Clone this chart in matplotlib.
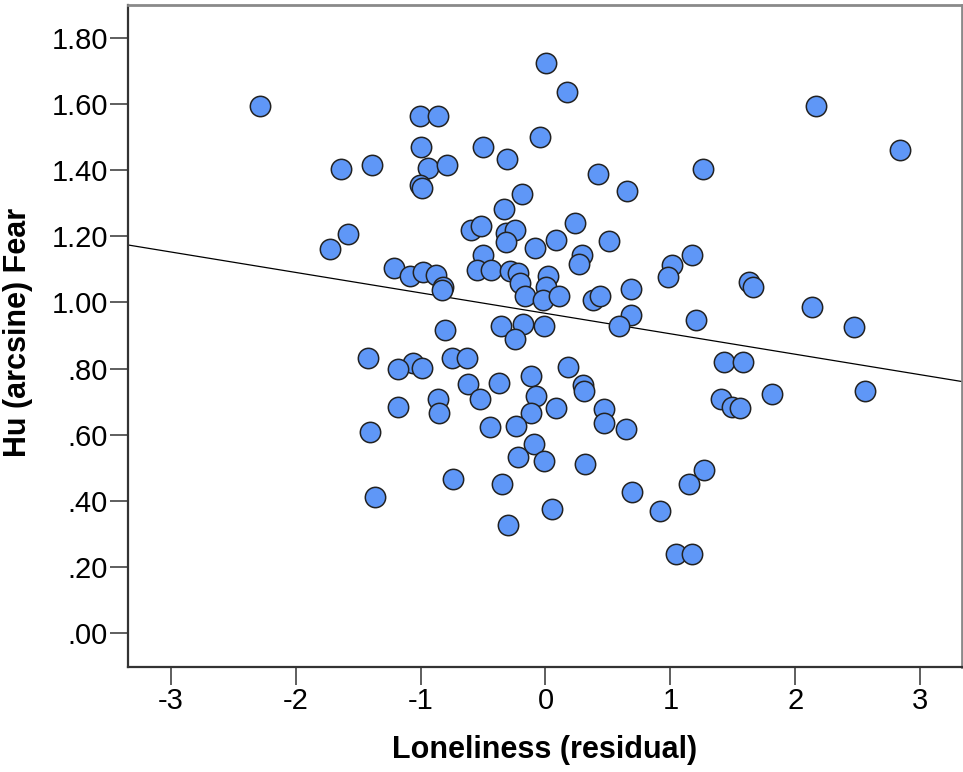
import numpy as np
import matplotlib
matplotlib.use("Agg")
import matplotlib.pyplot as plt

plt.rcParams['font.family'] = ['Liberation Sans', 'DejaVu Sans']

# Loneliness (residual) vs Hu (arcsine) Fear
loneliness = [
    -2.288, 0.006, 0.176, 2.170, 2.838, -1.002, -0.862, -1.634, -1.390, -1.000,
    -0.942, -0.790, -1.002, -0.992, -0.502, -0.310, -0.042, 0.418, 0.650, 1.258,
    -0.186, -1.728, -1.582, -0.594, -0.514, -0.336, -0.320, -0.248, -0.320, -0.088,
    0.086, 0.240, 0.506, 0.294, 0.272, -0.502, 1.174, 1.014, 0.978, 1.632,
    1.664, 2.138, 2.472, -1.210, -1.082, -0.982, -0.874, -0.822, -0.826, -0.550,
    -0.434, -0.288, -0.222, -0.208, -0.168, 0.018, 0.006, -0.022, 0.112, 0.378,
    0.438, 0.686, 0.686, 0.586, 1.208, -0.808, -0.354, -0.182, -0.016, -0.248,
    -0.746, -0.630, -1.062, -0.986, -1.422, -1.182, -0.622, -0.374, -0.114, 0.178,
    0.298, 0.312, -0.528, -0.074, 0.086, -0.114, -0.862, -0.854, -1.184, 0.472,
    0.472, 0.646, -0.442, -0.240, -1.408, -0.094, -0.222, -0.016, 0.320, -0.742,
    -0.348, 0.052, -0.302, 0.692, 0.918, 1.146, 1.272, 1.046, 1.170, -1.368,
    1.432, 1.578, 1.818, 2.560, 1.406, 1.494, 1.558,
]
fear = [
    1.594, 1.724, 1.637, 1.594, 1.461, 1.564, 1.564, 1.402, 1.415, 1.471,
    1.405, 1.415, 1.355, 1.345, 1.471, 1.435, 1.501, 1.387, 1.338, 1.402,
    1.327, 1.160, 1.206, 1.219, 1.231, 1.281, 1.209, 1.219, 1.183, 1.163,
    1.189, 1.241, 1.186, 1.143, 1.116, 1.143, 1.143, 1.113, 1.078, 1.063,
    1.046, 0.987, 0.927, 1.104, 1.080, 1.093, 1.083, 1.047, 1.037, 1.098,
    1.098, 1.096, 1.088, 1.058, 1.019, 1.080, 1.047, 1.007, 1.019, 1.007,
    1.019, 1.040, 0.962, 0.929, 0.948, 0.917, 0.929, 0.935, 0.929, 0.888,
    0.831, 0.831, 0.816, 0.801, 0.832, 0.800, 0.753, 0.756, 0.778, 0.804,
    0.750, 0.733, 0.707, 0.717, 0.680, 0.665, 0.707, 0.667, 0.685, 0.677,
    0.636, 0.617, 0.624, 0.626, 0.609, 0.571, 0.533, 0.522, 0.512, 0.466,
    0.451, 0.376, 0.327, 0.428, 0.370, 0.451, 0.494, 0.240, 0.240, 0.413,
    0.821, 0.821, 0.723, 0.733, 0.707, 0.683, 0.680,
]

# fit line as drawn in the chart
fit_slope = -0.0618
fit_intercept = 0.967

x_ticks = [-3, -2, -1, 0, 1, 2, 3]
y_ticks = [0.0, 0.2, 0.4, 0.6, 0.8, 1.0, 1.2, 1.4, 1.6, 1.8]
y_tick_labels = [".00", ".20", ".40", ".60", ".80", "1.00", "1.20", "1.40", "1.60", "1.80"]

fig = plt.figure(figsize=(9.63, 7.72), dpi=100)
ax = fig.add_axes([128 / 963, 105 / 772, 834 / 963, 662 / 772])

ax.scatter(loneliness, fear, s=215, c="#5f97f7", edgecolors="#222222",
           linewidths=1.1, zorder=3)

xlim = (-3.344, 3.336)
xs = np.array(xlim)
ax.plot(xs, fit_intercept + fit_slope * xs, color="black", linewidth=0.9, zorder=2)

ax.set_xlim(xlim)
ax.set_ylim(-0.102, 1.899)
ax.set_xticks(x_ticks)
ax.set_xticklabels([str(t) for t in x_ticks])
ax.set_yticks(y_ticks)
ax.set_yticklabels(y_tick_labels)
ax.tick_params(axis="both", direction="out", length=13, width=1.1,
               labelsize=21, pad=1.5, colors="black")
ax.tick_params(axis="both", color="#333333")

for side in ["left", "bottom"]:
    ax.spines[side].set_color("#333333")
    ax.spines[side].set_linewidth(1.6)
for side in ["top", "right"]:
    ax.spines[side].set_color("#8a8a8a")
    ax.spines[side].set_linewidth(2.0)

ax.set_xlabel("Loneliness (residual)", fontsize=22, fontweight="bold")
ax.set_ylabel("Hu (arcsine) Fear", fontsize=22, fontweight="bold")
ax.xaxis.set_label_coords(0.5, -0.103)
ax.xaxis.label.set_va("top")
ax.yaxis.set_label_coords(-0.114, 0.505)

fig.savefig("out.png", dpi=100)
